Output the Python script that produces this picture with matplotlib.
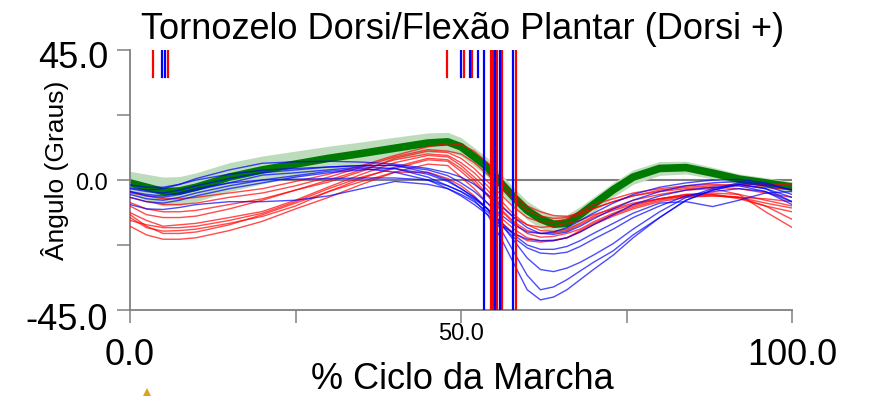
import matplotlib
matplotlib.use("Agg")
import matplotlib.pyplot as plt
from matplotlib import transforms as mtrans
from matplotlib.patches import Polygon
import numpy as np

plt.rcParams['font.family'] = ['Liberation Sans', 'DejaVu Sans']

# ---------------- data ----------------
TITLE = "Tornozelo Dorsi/Flexão Plantar (Dorsi +)"
XLABEL = "% Ciclo da Marcha"
YLABEL = "Ângulo (Graus)"

X = [0, 2.5, 5, 7.5, 10, 15, 20, 25, 30, 35, 40, 45, 48, 50, 52, 54, 56, 58,
     60, 62, 64, 66, 68, 70, 73, 76, 80, 84, 88, 92, 96, 100]

MEAN = [-1, -2.5, -4, -3.8, -2.5, 1, 3.5, 5.5, 7.5, 9.2, 11, 12.8, 13.2, 11.5,
        8, 4.4, -1, -6, -10.5, -13.5, -15.3, -15, -12, -8.5, -3.4, 1, 4, 4.3,
        2.4, 0.3, -1, -2.4]
SD = [4.0, 4.5, 5.0, 5.0, 5.0, 5.0, 4.8, 4.5, 4.2, 4.0, 3.8, 3.5, 3.3, 3.2,
      3.2, 3.2, 3.2, 3.2, 3.2, 3.2, 3.0, 3.0, 2.8, 2.6, 2.5, 2.5, 2.4, 2.2,
      2.0, 1.8, 1.8, 1.8]

RED = [
    [-4.4, -5.5, -6.5, -6.5, -6, -4.5, -3, -0.5, 2, 5, 8.5, 11.5, 12.6, 12.2, 10, 6, 0, -5.5, -9, -11, -12.3, -12.6, -11.5, -9.8, -7.5, -5.5, -3.5, -2.5, -2, -1.5, -1.5, -1.7],
    [-7.8, -10, -11, -11, -10.5, -8.5, -6.5, -3.5, -0.7, 3, 7.5, 10, 9.5, 7.5, 4, -0.5, -5, -9.5, -13, -14.5, -14.5, -13.5, -12, -10, -7.5, -5.5, -4, -3, -2.5, -3, -4.5, -6],
    [-11.3, -14, -16, -15.5, -15, -13, -10.9, -7, -2.4, 2, 6, 8.5, 8, 5, 1, -3.5, -8.5, -13, -15.5, -16.4, -16, -15, -14, -12, -10, -8, -6.5, -5.5, -5, -6, -8, -9.7],
    [-13, -16.5, -17.7, -17.5, -17, -15, -12.6, -9, -4, 0.5, 4.5, 7.5, 7, 4, 0, -5, -10, -14.5, -17.5, -18.5, -18.3, -17.5, -15.5, -13, -10.5, -8.5, -6.5, -5, -4.5, -5, -7, -9],
    [-16, -19, -20.5, -20.5, -20, -17.5, -14.3, -10, -6, -1.5, 2.7, 5.5, 5, 1, -3, -8, -13, -17, -20, -21, -20.8, -20, -18, -15.5, -12.5, -10, -7.5, -6, -5.5, -6, -9, -13.6],
    [-9, -12, -13, -13, -12.5, -10, -7, -3.5, 0, 3.5, 7, 9, 8.5, 6, 2.5, -2, -7, -12, -15.5, -17.5, -17.8, -17, -15, -12.5, -9.5, -7, -5, -3.5, -3, -5, -11, -16.4],
    [-12, -16, -18.5, -18.5, -18, -15.5, -12, -8, -4, -0.5, 2.7, 2.7, 0.5, -2, -5.5, -10, -14.5, -18.5, -21, -21.5, -21, -20, -17.5, -15, -12, -9.5, -7, -5.5, -5.5, -6, -6.5, -7.5],
    [-6, -7.5, -8.5, -8.5, -8, -6, -4.5, -2, 1, 4.5, 8, 10.5, 10, 9, 6, 2, -2.5, -7, -10.5, -12.5, -13.3, -13, -11, -8.5, -6.5, -4.5, -3, -2, -1.5, -2, -2.5, -3.4],
    [-14, -15.5, -16.5, -16.5, -16, -14, -11.5, -7.5, -3, 1, 4, 7, 6.5, 3, -1, -5.5, -10.5, -15, -18.5, -19.8, -19.5, -18.5, -17, -14.5, -11.5, -9, -6.5, -5, -5, -6.5, -9, -11],
]

BLUE = [
    [-2.8, -3.5, -3, -1.5, 0.5, 3.5, 5.8, 6.3, 6.5, 6.2, 5.5, 4, 2.5, 1, -1.5, -5, -9, -13, -16.5, -18.5, -18.8, -18, -16, -13.5, -10, -7, -4, -2, -1, -0.5, -1.5, -3.4],
    [-4, -5, -5.5, -4.5, -3, -1, 0, 0.3, 0.5, 0.7, 0.7, 0, -2, -4, -7, -12, -20, -29, -38, -41.5, -40.5, -38, -34.5, -31, -26, -20, -13, -7, -3.5, -1.5, -3, -6],
    [-1.7, -2.5, -2.5, -1.5, 0, 2, 3.4, 4, 4.5, 5, 5.1, 2.5, 0, -3, -6, -10, -17, -25, -33, -38, -37, -34.5, -31.5, -28.5, -24.5, -19, -13, -7, -3.5, -1.5, -3, -7.5],
    [-4, -5.5, -6, -5, -3.5, -1, 1.7, 2.5, 3.5, 4.5, 4, 1, -2, -4, -6.5, -10, -15, -21, -27, -31, -31.7, -30.5, -28.5, -26, -22, -17, -11, -6, -3, -1, -2, -5],
    [-8.5, -10, -10.2, -9.5, -8.5, -7.5, -7.5, -7, -5.5, -3, -0.5, -1.5, -3, -5, -7.5, -11, -15.5, -20, -23.5, -25.3, -25.6, -25, -23, -20.5, -17, -13, -9, -5.5, -4, -3, -4, -7.5],
    [-6, -7.5, -8, -7, -5.5, -3, -1, 1, 2.5, 3.5, 4, 2, -0.5, -3, -6, -10, -14.5, -19, -22.5, -24, -24, -23, -21, -18.5, -15, -11.5, -8, -7.5, -9.2, -7, -4.5, -4],
    [-3, -4, -4.5, -3.5, -2, 0.5, 2.5, 3.5, 4.5, 5, 5, 3.5, 1.5, -1, -4, -8, -12, -15.5, -18, -18.5, -18, -16.5, -14, -11.5, -8, -5, -2.5, -1, 0, 0.2, -1, -3.5],
    [-5, -6.5, -7, -6, -4.5, -2, 0, 1.5, 3, 4, 2.7, 0, -3, -5.5, -8.5, -12, -15.5, -18.5, -20.5, -21, -21, -20, -18, -15.5, -12, -8.5, -5.5, -3.5, -2.5, -2, -4, -8.5],
]

# gait events (% cycle)
RED_TOE_OFF = [54.5, 54.8, 55.5, 56.2, 58.3]
BLUE_TOE_OFF = [53.5, 55.1, 55.9, 57.9]
RED_SHORT = [3.4, 5.8, 47.9, 50.5, 51.6]
BLUE_SHORT = [4.8, 5.3, 50.0, 51.3, 52.5]

XTICKS = [0, 25, 50, 75, 100]
XTICKLABELS = ["0.0", "", "50.0", "", "100.0"]
YTICKS = [-45, -22.5, 0, 22.5, 45]
YTICKLABELS = ["-45.0", "", "0.0", "", "45.0"]

# ---------------- figure ----------------
W, H = 869, 396
fig = plt.figure(figsize=(W / 100, H / 100), dpi=100)
ax = fig.add_axes([130 / W, 86 / H, 662 / W, 260 / H])
ax.set_xlim(0, 100)
ax.set_ylim(-45, 45)

gray = "#808080"
ax.axhline(0, color=gray, lw=1.5, zorder=0.5)

x = np.array(X)
m = np.array(MEAN)
s = np.array(SD)
ax.fill_between(x, m - s, m + s, color="#bcdcbc", lw=0, zorder=1)
ax.plot(x, m, color="#007a00", lw=5.5, solid_capstyle="round",
        solid_joinstyle="round", zorder=2)

for yv in RED:
    ax.plot(x, yv, color="#ff0000", lw=1.0, alpha=0.7, zorder=3)
for yv in BLUE:
    ax.plot(x, yv, color="#0000ff", lw=1.0, alpha=0.7, zorder=3)

for xv in RED_TOE_OFF:
    ax.plot([xv, xv], [-45, 45], color="#ff0000", lw=1.6, zorder=4)
for xv in BLUE_TOE_OFF:
    ax.plot([xv, xv], [-45, 45], color="#0000ff", lw=1.6, zorder=4)
for xv in RED_SHORT:
    ax.plot([xv, xv], [35.5, 45], color="#ff0000", lw=1.6, zorder=4)
for xv in BLUE_SHORT:
    ax.plot([xv, xv], [35.5, 45], color="#0000ff", lw=1.6, zorder=4)

# spines and ticks
for sp in ("top", "right"):
    ax.spines[sp].set_visible(False)
for sp in ("left", "bottom"):
    ax.spines[sp].set_color(gray)
    ax.spines[sp].set_linewidth(1.3)
ax.set_xticks(XTICKS)
ax.set_yticks(YTICKS)
ax.set_xticklabels([])
ax.set_yticklabels([])
ax.tick_params(axis="both", direction="out", length=9.5, width=1.1, color=gray)

# y tick labels (custom sizes)
ytr = mtrans.blended_transform_factory(fig.transFigure, ax.transData)
ysize = {"-45.0": 26, "0.0": 17, "45.0": 26}
ydrop = {"-45.0": 20, "0.0": 10, "45.0": 18}
for val, lab in zip(YTICKS, YTICKLABELS):
    if lab:
        ax.text(108 / W, val, lab, ha="right", va="baseline",
                fontsize=ysize[lab],
                transform=mtrans.offset_copy(ytr, fig=fig, y=-ydrop[lab], units="dots"))

# x tick labels
xtr = mtrans.blended_transform_factory(ax.transData, fig.transFigure)
xsize = {"0.0": 26, "50.0": 17, "100.0": 26}
xbase = {"0.0": 365, "50.0": 340, "100.0": 365}
for val, lab in zip(XTICKS, XTICKLABELS):
    if lab:
        ax.text(val, 1 - xbase[lab] / H, lab, ha="center", va="baseline",
                fontsize=xsize[lab], transform=xtr)

fig.text(463 / W, 1 - 39 / H, TITLE, ha="center", va="baseline", fontsize=26)
fig.text(462 / W, 1 - 389 / H, XLABEL, ha="center", va="baseline", fontsize=26)
fig.text(55 / W, 1 - 170 / H, YLABEL, ha="center", va="center",
         rotation=90, fontsize=19)

# small marker partly visible at the bottom edge
fig.patches.append(Polygon([[141 / W, -4 / H], [153 / W, -4 / H], [147 / W, 8 / H]],
                           closed=True, transform=fig.transFigure,
                           facecolor="#d9a520", edgecolor="none"))

fig.savefig("out.png", dpi=100)
